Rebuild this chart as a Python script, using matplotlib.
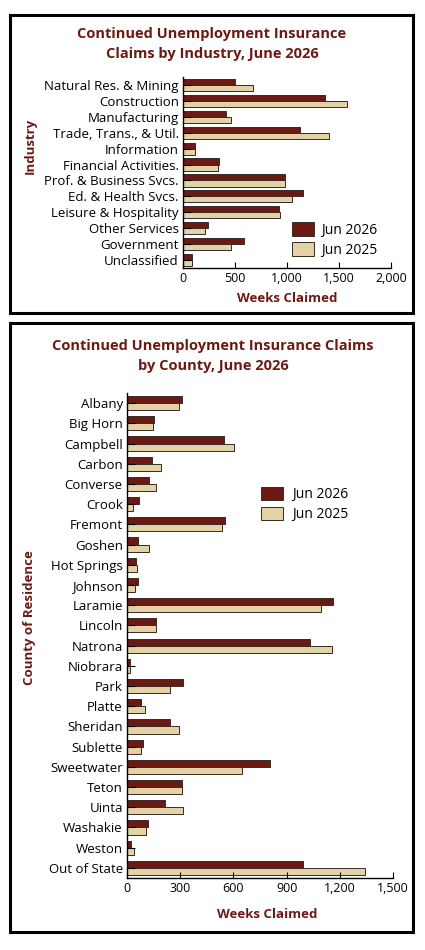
import matplotlib.pyplot as plt
import matplotlib.patches as mpatches
import numpy as np
from matplotlib.ticker import FuncFormatter

plt.rcParams['font.family'] = ['Open Sans', 'DejaVu Sans']

industries = ["Natural Res. & Mining", "Construction", "Manufacturing",
              "Trade, Trans., & Util.", "Information", "Financial Activities.",
              "Prof. & Business Svcs.", "Ed. & Health Svcs.", "Leisure & Hospitality",
              "Other Services", "Government", "Unclassified"]
ind_2026 = [503, 1361, 413, 1129, 113, 345, 984, 1152, 923, 236, 584, 90]
ind_2025 = [674, 1581, 461, 1403, 119, 332, 984, 1045, 932, 216, 458, 87]

counties = ["Albany", "Big Horn", "Campbell", "Carbon", "Converse", "Crook",
            "Fremont", "Goshen", "Hot Springs", "Johnson", "Laramie", "Lincoln",
            "Natrona", "Niobrara", "Park", "Platte", "Sheridan", "Sublette",
            "Sweetwater", "Teton", "Uinta", "Washakie", "Weston", "Out of State"]
cty_2026 = [308, 153, 549, 140, 126, 66, 555, 64, 49, 62, 1162, 164,
            1032, 17, 313, 81, 243, 92, 806, 308, 217, 121, 21, 994]
cty_2025 = [296, 147, 602, 189, 166, 34, 534, 125, 57, 43, 1094, 166,
            1157, 15, 243, 102, 291, 77, 651, 309, 317, 108, 38, 1344]

DARK = "#6b1a13"
TAN = "#e2d2a6"
EDGE = "#3a2a25"
TITLE = "#6b1a13"

W, H = 425, 950
fig = plt.figure(figsize=(W / 100, H / 100), dpi=100)


def px_axes(left, top, right, bottom):
    return fig.add_axes([left / W, 1 - bottom / H, (right - left) / W, (bottom - top) / H])


def frame(left, top, right, bottom):
    r = mpatches.Rectangle((left / W, 1 - bottom / H), (right - left) / W, (bottom - top) / H,
                           transform=fig.transFigure, fill=False, edgecolor="black",
                           linewidth=2.2)
    fig.patches.append(r)


def hbars(ax, labels, v26, v25, h, xmax, step):
    y = np.arange(len(labels))
    ax.barh(y - h / 2, v26, height=h, color=DARK, edgecolor=EDGE, linewidth=0.7, label="Jun 2026")
    ax.barh(y + h / 2, v25, height=h, color=TAN, edgecolor=EDGE, linewidth=0.7, label="Jun 2025")
    ax.set_yticks(y)
    ax.set_yticklabels(labels, fontsize=9.5)
    ax.set_ylim(len(labels) - 0.5, -0.5)
    ax.set_xlim(0, xmax)
    ax.set_xticks(np.arange(0, xmax + 1, step))
    ax.xaxis.set_major_formatter(FuncFormatter(lambda v, p: f"{int(v):,}"))
    ax.tick_params(axis="x", direction="in", length=4, labelsize=9, pad=3, color="black")
    ax.tick_params(axis="y", direction="in", length=6, pad=3, color="black")
    for s in ("top", "right"):
        ax.spines[s].set_visible(False)
    for s in ("left", "bottom"):
        ax.spines[s].set_linewidth(1.0)
    ax.set_xlabel("Weeks Claimed", fontsize=9.5, fontweight="bold", color=TITLE)


# top panel
frame(10, 15, 413, 313)
ax1 = px_axes(183, 77, 391, 268)
hbars(ax1, industries, ind_2026, ind_2025, 0.38, 2000, 500)
ax1.xaxis.set_label_coords(0.5, -0.125)
fig.text(30 / W, 1 - 146 / H, "Industry", rotation=90, ha="center", va="center",
         fontsize=9.5, fontweight="bold", color=TITLE)
fig.text(212 / W, 1 - 44 / H, "Continued Unemployment Insurance\nClaims by Industry, June 2026",
         ha="center", va="center", fontsize=10.5, fontweight="bold", color=TITLE, linespacing=1.5)
ax1.legend(loc="upper left", bbox_to_anchor=(0.524, 0.24), frameon=False, fontsize=10,
           handlelength=1.55, handleheight=1.2, labelspacing=0.3, borderpad=0,
           borderaxespad=0, handletextpad=0.55)

# bottom panel
frame(10, 323, 413, 932)
ax2 = px_axes(127, 393, 393, 878)
hbars(ax2, counties, cty_2026, cty_2025, 0.35, 1500, 300)
ax2.xaxis.set_label_coords(0.526, -0.062)
fig.text(30 / W, 1 - 618 / H, "County of Residence", rotation=90, ha="center", va="center",
         fontsize=9.5, fontweight="bold", color=TITLE)
fig.text(213 / W, 1 - 356 / H, "Continued Unemployment Insurance Claims\nby County, June 2026",
         ha="center", va="center", fontsize=10.5, fontweight="bold", color=TITLE, linespacing=1.5)
ax2.legend(loc="upper left", bbox_to_anchor=(0.504, 0.806), frameon=False, fontsize=10,
           handlelength=1.55, handleheight=1.1, labelspacing=0.3, borderpad=0,
           borderaxespad=0, handletextpad=0.7)

fig.savefig("out.png", dpi=100)
